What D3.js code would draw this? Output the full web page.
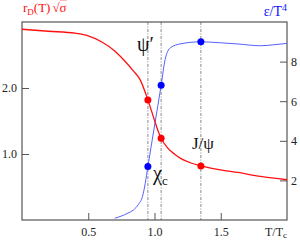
<!DOCTYPE html>
<html>
<head>
<meta charset="utf-8">
<script src="https://cdn.jsdelivr.net/npm/d3@7"></script>
<style>
body{margin:0;background:#fff;}
text{font-family:"Liberation Serif","DejaVu Serif",serif;}
</style>
</head>
<body>
<script>
// debye radius (left axis) vs T/Tc
var rdT = [0, 0.2, 0.4, 0.5, 0.6, 0.7, 0.77, 0.84, 0.89, 0.95, 1.0, 1.025, 1.05, 1.1, 1.15, 1.2, 1.28, 1.35, 1.5, 1.63, 1.8, 2.0]
var rdVal = [2.89, 2.86, 2.83, 2.79, 2.70, 2.56, 2.42, 2.26, 2.13, 1.82, 1.51, 1.36, 1.24, 1.09, 1.00, 0.93, 0.86, 0.82, 0.76, 0.72, 0.66, 0.61]
// energy density eps/T^4 (right axis)
var epsT = [0.70, 0.75, 0.80, 0.84, 0.88, 0.91, 0.93, 0.95, 1.0, 1.05, 1.08, 1.12, 1.2, 1.35, 1.5, 1.63, 1.8, 1.9, 2.0]
var epsVal = [0.09, 0.2, 0.35, 0.5, 0.8, 1.2, 1.85, 2.7, 4.75, 6.8, 8.1, 8.7, 8.9, 9.0, 8.95, 8.89, 8.8, 8.85, 8.92]
// dissociation points
var stateT = [0.95, 1.05, 1.35]
var stateRd = [1.82, 1.24, 0.82]
var stateEps = [2.7, 6.8, 9.0]
var xTicks = [0.5, 1.0, 1.5]
var leftTicks = [1.0, 2.0]
var rightTicks = [2, 4, 6, 8]

var w = 300, h = 240
var m = {top:22, right:13, bottom:20, left:22}

var svg = d3.select("body").append("svg")
	.attr("width", w)
	.attr("height", h)

var x = d3.scaleLinear().domain([0, 2]).range([m.left, w - m.right])
var yL = d3.scaleLinear().domain([0, 3]).range([h - m.bottom, m.top])
var yR = d3.scaleLinear().domain([0, 10]).range([h - m.bottom, m.top])

var axisCol = "#555"

// vertical dash-dot lines at each state
svg.selectAll("line.state")
	.data(stateT)
	.enter()
	.append("line")
	.attr("class", "state")
	.attr("x1", function(d){return x(d)})
	.attr("x2", function(d){return x(d)})
	.attr("y1", m.top)
	.attr("y2", h - m.bottom)
	.attr("stroke", "#888")
	.attr("stroke-width", 1)
	.attr("stroke-dasharray", "3,1.5,1,1.5")

var gx = svg.append("g")
	.attr("transform", "translate(0," + (h - m.bottom) + ")")
	.call(d3.axisBottom(x).tickValues(xTicks).tickSizeInner(-7).tickSizeOuter(0).tickPadding(7).tickFormat(d3.format(".1f")))
var gl = svg.append("g")
	.attr("transform", "translate(" + m.left + ",0)")
	.call(d3.axisLeft(yL).tickValues(leftTicks).tickSizeInner(-7).tickSizeOuter(0).tickPadding(5).tickFormat(d3.format(".1f")))
var gr = svg.append("g")
	.attr("transform", "translate(" + (w - m.right) + ",0)")
	.call(d3.axisRight(yR).tickValues(rightTicks).tickSizeInner(-7).tickSizeOuter(0).tickPadding(4).tickFormat(d3.format("d")))

;[gx, gl, gr].forEach(function(g){
	g.select(".domain").remove()
	g.selectAll("line").attr("stroke", axisCol)
	g.selectAll("text").attr("font-family", "Liberation Serif").attr("font-size", 12).attr("fill", "#222")
})

// frame
svg.append("rect")
	.attr("x", m.left)
	.attr("y", m.top)
	.attr("width", w - m.left - m.right)
	.attr("height", h - m.top - m.bottom)
	.attr("fill", "none")
	.attr("stroke", axisCol)
	.attr("stroke-width", 1.2)

var rdData = rdT.map(function(t, i){return [t, rdVal[i]]})
var epsData = epsT.map(function(t, i){return [t, epsVal[i]]})

svg.append("path")
	.datum(epsData)
	.attr("fill", "none")
	.attr("stroke", "#5560ff")
	.attr("stroke-width", 1)
	.attr("d", d3.line().curve(d3.curveMonotoneX).x(function(d){return x(d[0])}).y(function(d){return yR(d[1])}))

svg.append("path")
	.datum(rdData)
	.attr("fill", "none")
	.attr("stroke", "#ff1010")
	.attr("stroke-width", 1.3)
	.attr("d", d3.line().curve(d3.curveMonotoneX).x(function(d){return x(d[0])}).y(function(d){return yL(d[1])}))

svg.selectAll("circle.rd")
	.data(stateT)
	.enter()
	.append("circle")
	.attr("class", "rd")
	.attr("cx", function(d){return x(d)})
	.attr("cy", function(d, i){return yL(stateRd[i])})
	.attr("r", 3.5)
	.attr("fill", "#ff0000")

svg.selectAll("circle.eps")
	.data(stateT)
	.enter()
	.append("circle")
	.attr("class", "eps")
	.attr("cx", function(d){return x(d)})
	.attr("cy", function(d, i){return yR(stateEps[i])})
	.attr("r", 3.5)
	.attr("fill", "#0000ff")

// axis titles
var tl = svg.append("text")
	.attr("x", 23)
	.attr("y", 12)
	.attr("font-size", 13)
	.attr("fill", "#ff1010")
tl.append("tspan").text("r")
tl.append("tspan").attr("font-size", 9).attr("dy", 3).text("D")
tl.append("tspan").attr("dy", -3).text("(T)")
tl.append("tspan").attr("dx", 2).text("√")
tl.append("tspan").attr("text-decoration", "overline").text("σ")

var tr = svg.append("text")
	.attr("x", w - m.right)
	.attr("y", 16)
	.attr("text-anchor", "end")
	.attr("font-size", 14)
	.attr("fill", "#1010ff")
tr.append("tspan").text("ε/T")
tr.append("tspan").attr("font-size", 10).attr("dy", -5).text("4")

svg.append("text")
	.attr("x", w - m.right)
	.attr("y", 236)
	.attr("text-anchor", "end")
	.attr("font-size", 12)
	.attr("fill", "#222")
	.call(function(t){
		t.append("tspan").text("T/T")
		t.append("tspan").attr("font-size", 9).attr("dy", 2).text("c")
	})

// state labels
svg.append("text")
	.attr("x", 137)
	.attr("y", 51)
	.attr("font-size", 20)
	.attr("fill", "#111")
	.text("ψ′")

var chi = svg.append("text")
	.attr("x", 153)
	.attr("y", 180)
	.attr("font-size", 20)
	.attr("fill", "#111")
chi.append("tspan").text("χ")
chi.append("tspan").attr("font-size", 13).attr("dy", 5).text("c")

svg.append("text")
	.attr("x", 192)
	.attr("y", 149)
	.attr("font-size", 17)
	.attr("fill", "#111")
	.text("J/ψ")
</script>
</body>
</html>
